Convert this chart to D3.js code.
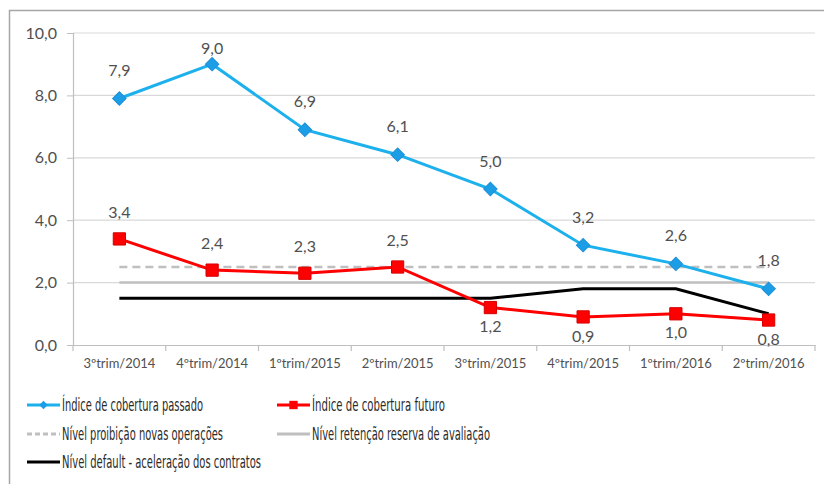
<!DOCTYPE html>
<html>
<head>
<meta charset="utf-8">
<script src="https://cdn.jsdelivr.net/npm/d3@7"></script>
<style>
  body { margin: 0; background: #fff; }
  svg { display: block; }
</style>
</head>
<body>
<div id="app"></div>
<script>
`use strict`;

const Quarters = [`3ºtrim/2014`, `4ºtrim/2014`, `1ºtrim/2015`, `2ºtrim/2015`, `3ºtrim/2015`, `4ºtrim/2015`, `1ºtrim/2016`, `2ºtrim/2016`];
const Passado = [7.9, 9.0, 6.9, 6.1, 5.0, 3.2, 2.6, 1.8];
const Futuro = [3.4, 2.4, 2.3, 2.5, 1.2, 0.9, 1.0, 0.8];
const Proibicao = [2.5, 2.5, 2.5, 2.5, 2.5, 2.5, 2.5, 2.5];
const Retencao = [2.0, 2.0, 2.0, 2.0, 2.0, 2.0, 2.0, 2.0];
const Default = [1.5, 1.5, 1.5, 1.5, 1.5, 1.8, 1.8, 1.0];
const YTicks = [0, 2, 4, 6, 8, 10];
const LegendNames = [`Índice de cobertura passado`, `Índice de cobertura futuro`, `Nível proibição novas operações`, `Nível retenção reserva de avaliação`, `Nível default - aceleração dos contratos`];

const W = 824, H = 484;
const M = {left: 73, right: 815, top: 33, bottom: 345};
const fmt = d3.formatLocale({decimal: `,`, thousands: `.`, grouping: [3], currency: [``, ``]}).format(`.1f`);

let SVG = d3.select(`#app`).append(`svg`).attr(`width`, W).attr(`height`, H);

// outer frame
SVG.append(`rect`).attr(`x`, 9.5).attr(`y`, 10.5).attr(`width`, W).attr(`height`, H)
  .attr(`fill`, `none`).attr(`stroke`, `#a6a6a6`).attr(`stroke-width`, 1.5);

let x = d3.scaleBand().domain(Quarters).range([M.left, M.right]);
let y = d3.scaleLinear().domain([0, 10]).range([M.bottom, M.top]);
let cx = d => x(d) + x.bandwidth() / 2;

// grid
SVG.append(`g`).selectAll(`line`).data(YTicks.filter(t => t > 0)).enter().append(`line`)
  .attr(`x1`, M.left).attr(`x2`, M.right)
  .attr(`y1`, d => y(d)).attr(`y2`, d => y(d))
  .attr(`stroke`, `#d9d9d9`).attr(`stroke-width`, 1.2);

// y axis
let yAxis = SVG.append(`g`).attr(`transform`, `translate(${M.left},0)`)
  .call(d3.axisLeft(y).tickValues(YTicks).tickFormat(fmt).tickSize(6).tickPadding(10));
yAxis.select(`.domain`).attr(`stroke`, `#bfbfbf`).attr(`stroke-width`, 1.2);
yAxis.selectAll(`.tick line`).attr(`stroke`, `#bfbfbf`);
yAxis.selectAll(`text`).attr(`fill`, `#505050`).style(`font`, `16px Lato, sans-serif`);

// x axis
let xAxis = SVG.append(`g`).attr(`transform`, `translate(0,${M.bottom})`)
  .call(d3.axisBottom(x).tickSize(0).tickPadding(14));
xAxis.select(`.domain`).attr(`stroke`, `#bfbfbf`).attr(`stroke-width`, 1.2);
xAxis.selectAll(`text`).attr(`fill`, `#505050`).style(`font`, `13px Lato, sans-serif`);
SVG.append(`g`).selectAll(`line`).data(d3.range(Quarters.length + 1)).enter().append(`line`)
  .attr(`x1`, i => M.left + i * x.bandwidth()).attr(`x2`, i => M.left + i * x.bandwidth())
  .attr(`y1`, M.bottom).attr(`y2`, M.bottom + 6)
  .attr(`stroke`, `#bfbfbf`).attr(`stroke-width`, 1.2);

let line = d3.line().x((d, i) => cx(Quarters[i])).y(d => y(d));

SVG.append(`path`).datum(Retencao).attr(`d`, line).attr(`fill`, `none`).attr(`stroke`, `#bfbfbf`).attr(`stroke-width`, 2.5);
SVG.append(`path`).datum(Proibicao).attr(`d`, line).attr(`fill`, `none`).attr(`stroke`, `#bfbfbf`).attr(`stroke-width`, 2.5).attr(`stroke-dasharray`, `8,5`);
SVG.append(`path`).datum(Default).attr(`d`, line).attr(`fill`, `none`).attr(`stroke`, `#000`).attr(`stroke-width`, 3);
SVG.append(`path`).datum(Futuro).attr(`d`, line).attr(`fill`, `none`).attr(`stroke`, `#ff0000`).attr(`stroke-width`, 3);
SVG.append(`path`).datum(Passado).attr(`d`, line).attr(`fill`, `none`).attr(`stroke`, `#1cb0ec`).attr(`stroke-width`, 3);

let square = d3.symbol().type(d3.symbolSquare).size(150);
let diamond = d3.symbol().type(d3.symbolSquare).size(90);

SVG.append(`g`).selectAll(`path`).data(Futuro).enter().append(`path`)
  .attr(`d`, square).attr(`transform`, (d, i) => `translate(${cx(Quarters[i])},${y(d)})`)
  .attr(`fill`, `#ff0000`).attr(`stroke`, `#d40000`).attr(`stroke-width`, 1);
SVG.append(`g`).selectAll(`path`).data(Passado).enter().append(`path`)
  .attr(`d`, diamond).attr(`transform`, (d, i) => `translate(${cx(Quarters[i])},${y(d)}) rotate(45)`)
  .attr(`fill`, `#1c9ee6`).attr(`stroke`, `#1c8fd8`).attr(`stroke-width`, 1);

// data labels
let lab = `16px Lato, sans-serif`;
SVG.append(`g`).selectAll(`text`).data(Passado).enter().append(`text`)
  .attr(`x`, (d, i) => cx(Quarters[i])).attr(`y`, d => Math.max(y(d) - 28, y(10) + 15))
  .attr(`text-anchor`, `middle`).attr(`dy`, `0.35em`).attr(`fill`, `#505050`).style(`font`, lab).text(fmt);
SVG.append(`g`).selectAll(`text`).data(Futuro).enter().append(`text`)
  .attr(`x`, (d, i) => cx(Quarters[i])).attr(`y`, (d, i) => i < 4 ? y(d) - 27 : y(d) + 19)
  .attr(`text-anchor`, `middle`).attr(`dy`, `0.35em`).attr(`fill`, `#505050`).style(`font`, lab).text(fmt);

// legend
let Legend = [
  {name: LegendNames[0], x: 27, y: 405, w: 141, color: `#1cb0ec`, mark: `diamond`},
  {name: LegendNames[1], x: 277, y: 405, w: 133, color: `#ff0000`, mark: `square`},
  {name: LegendNames[2], x: 27, y: 434, w: 161, color: `#bfbfbf`, dash: `5,3`},
  {name: LegendNames[3], x: 277, y: 434, w: 178, color: `#bfbfbf`},
  {name: LegendNames[4], x: 27, y: 462, w: 199, color: `#000`}
];
let LG = SVG.append(`g`).selectAll(`g`).data(Legend).enter().append(`g`).attr(`transform`, d => `translate(${d.x},${d.y})`);
LG.append(`line`).attr(`x1`, 0).attr(`x2`, 33).attr(`stroke`, d => d.color).attr(`stroke-width`, 3).attr(`stroke-dasharray`, d => d.dash || null);
LG.filter(d => d.mark === `diamond`).append(`path`).attr(`d`, d3.symbol().type(d3.symbolSquare).size(35)).attr(`transform`, `translate(16.5,0) rotate(45)`).attr(`fill`, `#1c9ee6`);
LG.filter(d => d.mark === `square`).append(`path`).attr(`d`, d3.symbol().type(d3.symbolSquare).size(70)).attr(`transform`, `translate(16.5,0)`).attr(`fill`, `#ff0000`);
LG.append(`text`).attr(`x`, 35).attr(`dy`, `0.35em`).attr(`fill`, `#2a2a2a`)
  .attr(`textLength`, d => d.w).attr(`lengthAdjust`, `spacingAndGlyphs`)
  .style(`font`, `18px "DejaVu Sans Condensed", "Roboto", sans-serif`).text(d => d.name);
</script>
</body>
</html>
